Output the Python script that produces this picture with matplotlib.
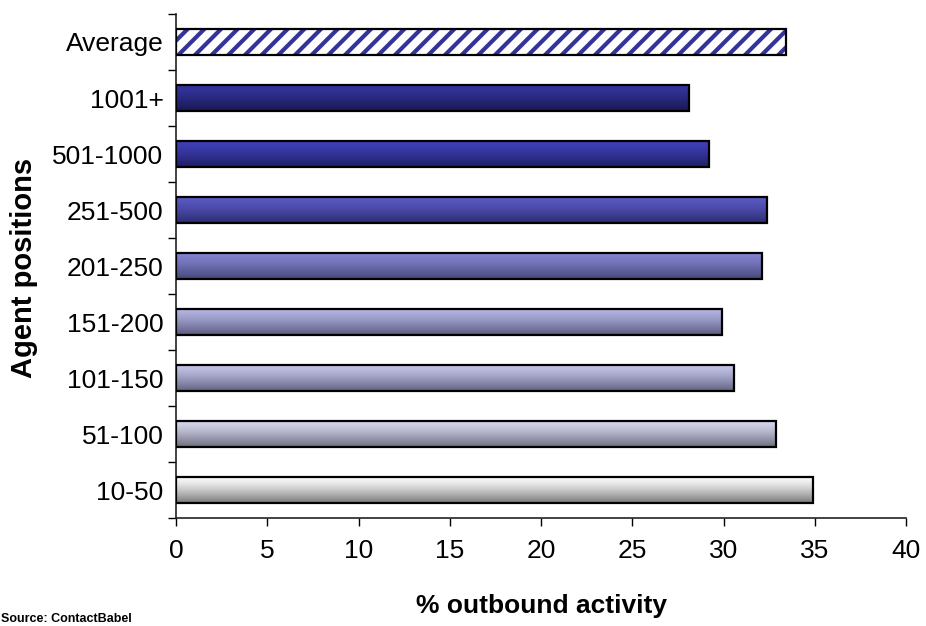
import numpy as np
import matplotlib
matplotlib.use("Agg")
import matplotlib.pyplot as plt
from matplotlib.colors import to_rgb

plt.rcParams['font.family'] = ['Liberation Sans', 'DejaVu Sans']
plt.rcParams['hatch.linewidth'] = 3.0

categories = ["10-50", "51-100", "101-150", "151-200", "201-250",
              "251-500", "501-1000", "1001+", "Average"]
outbound_pct = [34.9, 32.9, 30.6, 29.9, 32.1, 32.4, 29.2, 28.1, 33.4]

# top / bottom colours of the shaded bars (light at top, dark at bottom)
shade_top = ["#fbfbfb", "#d6d6ec", "#c4c4e8", "#b4b4e2", "#8484d0",
             "#5a5ac4", "#4040b8", "#3434a0"]
shade_bottom = ["#7a7a7a", "#6e6e80", "#626282", "#5a5a80", "#46467a",
                "#2c2c70", "#1e1e64", "#18184e"]

fig = plt.figure(figsize=(9.26, 6.26), dpi=100)
ax = fig.add_axes([176 / 926, 1 - 518 / 626, 730 / 926, 504 / 626])

y = np.arange(len(categories))
bar_h = 0.45

# hatched fill for the average bar (hatch takes the edge colour)
n = len(categories)
hatch_vals = [0] * (n - 1) + [outbound_pct[-1]]
hb = ax.barh(y, hatch_vals, height=bar_h, facecolor="white",
             edgecolor="#333399", linewidth=0, hatch="//", zorder=2)
for p in hb.patches[:-1]:
    p.set_visible(False)

# outlines for every bar
bars = ax.barh(y, outbound_pct, height=bar_h, facecolor="none",
               edgecolor="black", linewidth=1.6, zorder=3)

for i, patch in enumerate(bars.patches[:-1]):
    x0, y0 = patch.get_x(), patch.get_y()
    w, h = patch.get_width(), patch.get_height()
    t = np.linspace(0, 1, 64) ** 1.3
    c0 = np.array(to_rgb(shade_top[i]))
    c1 = np.array(to_rgb(shade_bottom[i]))
    grad = (c0[None, :] * (1 - t[:, None]) + c1[None, :] * t[:, None])[:, None, :]
    # first row is the top edge of the bar
    ax.imshow(grad, extent=[x0, x0 + w, y0, y0 + h], origin="upper",
              aspect="auto", interpolation="bilinear", zorder=2)

ax.set_xlim(0, 40)
ax.set_ylim(-0.5, n - 0.5)
ax.set_xticks(np.arange(0, 41, 5))
ax.set_yticks(y)
ax.set_yticklabels(categories)
ax.set_yticks(np.arange(-0.5, n, 1), minor=True)
ax.tick_params(axis="y", which="major", length=0, pad=9, labelsize=19)
ax.tick_params(axis="y", which="minor", length=6, width=1, direction="out")
ax.tick_params(axis="x", length=6, width=1, direction="out", pad=9, labelsize=19)

for side in ("top", "right"):
    ax.spines[side].set_visible(False)
for side in ("left", "bottom"):
    ax.spines[side].set_linewidth(1.2)
    ax.spines[side].set_color("#222222")

fig.text(541 / 926, 1 - 606 / 626, "% outbound activity", fontsize=19,
         fontweight="bold", ha="center", va="center")
fig.text(24 / 926, 1 - 268 / 626, "Agent positions", rotation=90, fontsize=21,
         fontweight="bold", ha="center", va="center")
fig.text(1 / 926, 1 - 619 / 626, "Source: ContactBabel", fontsize=9,
         fontweight="bold", ha="left", va="center")

fig.savefig("out.png", dpi=100)
